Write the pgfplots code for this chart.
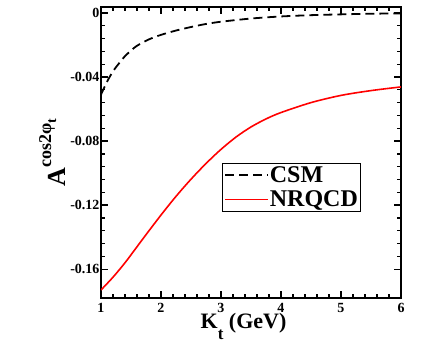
\documentclass[border=0pt]{standalone}
\usepackage{pgfplots}
\pgfplotsset{compat=1.18}
\usepackage{fontspec}
\setmainfont{Liberation Serif}

\pgfplotstableread{
K      A
1.00  -0.0510
1.10  -0.0430
1.20  -0.0365
1.30  -0.0315
1.40  -0.0270
1.50  -0.0235
1.60  -0.0205
1.80  -0.0165
2.00  -0.0137
2.25  -0.0110
2.50  -0.0088
2.75  -0.0069
3.00  -0.0055
3.50  -0.0035
4.00  -0.0022
4.50  -0.0014
5.00  -0.0009
5.50  -0.0005
6.00  -0.0003
}\csm

\pgfplotstableread{
K      A
1.00  -0.1730
1.20  -0.1650
1.40  -0.1560
1.60  -0.1460
1.80  -0.1360
2.00  -0.1262
2.20  -0.1168
2.40  -0.1080
2.60  -0.0998
2.80  -0.0922
3.00  -0.0852
3.25  -0.0775
3.50  -0.0712
3.75  -0.0662
4.00  -0.0622
4.50  -0.0560
5.00  -0.0515
5.50  -0.0485
6.00  -0.0462
}\nrqcd

\begin{document}
\begin{tikzpicture}
\begin{axis}[
    name=ax,
    scale only axis,
    width=300pt,
    height=291pt,
    xmin=1,xmax=6,
    ymin=-0.178,ymax=0.0037,
    xtick={1,2,3,4,5,6},
    xticklabels={1,2,3,4,5,6},
    ytick={-0.16,-0.12,-0.08,-0.04,0},
    yticklabels={-0.16,-0.12,-0.08,-0.04,0},
    minor x tick num=4,
    minor y tick num=4,
    tick align=inside,
    major tick length=7pt,
    minor tick length=4pt,
    every tick/.style={black,line width=1.3pt},
    axis line style={line width=1.4pt},
    tick label style={font=\fontsize{14}{14}\selectfont\bfseries},
    xticklabel style={yshift=-2pt},
    yticklabel style={xshift=2pt},
    xlabel={\fontsize{22}{22}\selectfont\bfseries K\raisebox{-11pt}{\fontsize{17}{17}\selectfont t} (GeV)},
    xlabel style={at={(axis description cs:0.475,-0.106)},anchor=base},
    ylabel={\fontsize{26}{26}\selectfont\bfseries A\raisebox{14pt}{\fontsize{18}{18}\selectfont cos2φ\raisebox{-5pt}{\fontsize{14}{14}\selectfont t}}},
    ylabel style={at={(axis description cs:-0.163,0.5)},anchor=center},
    legend style={at={(0.403,0.464)},anchor=north west,draw=black,line width=1pt,
        font=\fontsize{24}{24}\selectfont\bfseries,inner sep=2pt,row sep=5pt,
        nodes={inner sep=1pt}},
    legend cell align=left,
    legend image code/.code={\draw[#1] (0cm,0cm) -- (1.5cm,0cm);},
]
\addplot[black,line width=1.8pt,dash pattern=on 9pt off 5pt,smooth] table[x=K,y=A] {\csm};
\addlegendentry{CSM}
\addplot[red,line width=1.6pt,smooth] table[x=K,y=A] {\nrqcd};
\addlegendentry{NRQCD}
\end{axis}
\path ([shift={(-101pt,-56pt)}]ax.south west) rectangle ([shift={(35pt,7pt)}]ax.north east);
\end{tikzpicture}
\end{document}
